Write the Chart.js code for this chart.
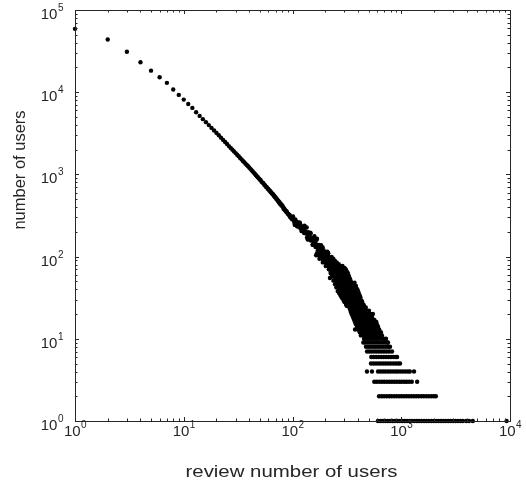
<!DOCTYPE html>
<html>
<head>
<meta charset="utf-8">
<script src="https://cdn.jsdelivr.net/npm/chart.js@4/dist/chart.umd.min.js"></script>
<style>
  body { margin: 0; background: #fff; }
</style>
</head>
<body>
<canvas id="myChart" width="526" height="484"></canvas>
<script>
// review counts 1..100, one user count each (the clean head of the curve)
const headReviews = [
  1, 2, 3, 4, 5, 6, 7, 8, 9, 10, 11, 12, 13, 14, 15, 16, 17, 18, 19, 20,
  21, 22, 23, 24, 25, 26, 27, 28, 29, 30, 31, 32, 33, 34, 35, 36, 37, 38, 39, 40,
  41, 42, 43, 44, 45, 46, 47, 48, 49, 50, 51, 52, 53, 54, 55, 56, 57, 58, 59, 60,
  61, 62, 63, 64, 65, 66, 67, 68, 69, 70, 71, 72, 73, 74, 75, 76, 77, 78, 79, 80,
  81, 82, 83, 84, 85, 86, 87, 88, 89, 90, 91, 92, 93, 94, 95, 96, 97, 98, 99, 100
];
const headUsers = [
  59000, 43700, 31000, 23100, 18300, 15200, 13000, 10800, 9270, 8130,
  7200, 6440, 5700, 5150, 4700, 4320, 3980, 3680, 3420, 3200,
  2990, 2800, 2630, 2480, 2340, 2210, 2100, 2000, 1905, 1815,
  1735, 1660, 1585, 1525, 1460, 1405, 1350, 1300, 1255, 1213,
  1169, 1128, 1088, 1051, 1017, 984, 952, 923, 895, 868,
  850, 812, 795, 779, 748, 735, 709, 699, 672, 664,
  640, 633, 608, 603, 580, 577, 553, 550, 527, 526,
  502, 500, 479, 480, 456, 459, 436, 440, 418, 421,
  412, 396, 380, 386, 370, 365, 354, 356, 347, 336,
  330, 329, 318, 321, 303, 308, 297, 299, 284, 288
];

// dense core of the band between 100 and 200 reviews
const coreReviews = [103, 107, 111, 115, 119, 123, 127, 131, 134, 137, 140, 143, 146, 149, 152, 155, 158, 161, 164, 167,
  170, 173, 176, 180, 184, 188, 192, 196, 200];
const coreUsers = [274, 263, 250, 241, 229, 222, 211, 203, 195, 191, 183, 179, 171, 168, 161, 157, 151, 148, 142, 139,
  133, 132, 126, 123, 117, 115, 108, 107, 101];

// the noisy band from ~100 to ~480 reviews
const bandReviews = [
  101, 102, 104, 105, 106, 108, 109, 110, 112, 113, 114, 116, 117, 118, 120, 121, 122, 124, 125, 126,
  128, 129, 130, 132, 133, 135, 136, 138, 139, 141, 142, 144, 145, 147, 148, 150, 151, 153, 154, 156,
  157, 159, 160, 162, 163, 165, 166, 168, 169, 171, 172, 174, 175, 177, 179, 181, 183, 185, 187, 189,
  191, 193, 195, 197, 199, 201, 203, 205, 207, 209, 211, 213, 215, 217, 220, 221, 222, 224, 225, 228,
  230, 233, 235, 238, 240, 243, 245, 248, 250, 253, 256, 258, 260, 262, 265, 268, 271, 274, 277, 280,
  283, 286, 289, 292, 295, 298, 300, 302, 305, 308, 312, 316, 319, 322, 326, 330, 333, 336, 340, 344,
  348, 352, 356, 360, 364, 368, 372, 376, 380, 385, 390, 395, 400, 405, 410, 415, 420, 425, 430, 435,
  440, 445, 450, 455, 465, 475
];
const bandUsers = [
  309, 285, 258, 243, 284, 255, 266, 234, 259, 232, 242, 260, 255, 221, 232, 205, 205, 233, 216, 223,
  194, 237, 227, 192, 193, 226, 171, 161, 198, 193, 180, 162, 195, 192, 157, 158, 167, 139, 140, 155,
  168, 177, 156, 163, 131, 134, 159, 165, 131, 119, 114, 107, 139, 136, 123, 124, 138, 105, 105, 130,
  114, 120, 92, 88, 113, 100, 105, 89, 84, 115, 109, 110, 85, 81, 70, 55, 69, 96, 92, 62,
  78, 84, 86, 82, 64, 69, 73, 59, 56, 61, 70, 71, 49, 65, 70, 49, 56, 62, 45, 50,
  60, 39, 50, 54, 43, 46, 55, 52, 55, 31, 36, 36, 42, 44, 30, 47, 41, 29, 37, 25,
  27, 40, 38, 33, 27, 21, 21, 26, 30, 25, 25, 23, 30, 31, 19, 26, 22, 18, 15, 16,
  22, 25, 19, 18, 12, 18
];

// rows of equal user count (25..110) across the widening band
const midLevels = [110, 104, 99, 94, 89, 85, 81, 77, 73, 70, 66, 63, 60, 57, 54, 51, 48, 46, 44, 42,
  40, 38, 36, 34, 32, 31, 29, 28, 26, 25];
const midReviews = [
  [168, 178, 189, 200, 212],
  [165, 175, 186, 197, 209],
  [181, 192, 204, 216, 229],
  [177, 188, 199, 211, 224, 237],
  [194, 206, 218, 231, 245],
  [190, 201, 213, 226, 240, 255],
  [208, 221, 235, 250, 266],
  [202, 214, 227, 241, 256, 272, 288],
  [223, 237, 252, 268, 284, 301],
  [216, 229, 243, 258, 274, 291, 309],
  [235, 249, 264, 280, 297, 316],
  [224, 238, 253, 269, 286, 304, 323],
  [241, 256, 272, 289, 307, 326],
  [231, 245, 260, 276, 293, 311, 331],
  [249, 264, 281, 298, 317, 337],
  [238, 253, 269, 286, 303, 322, 342],
  [258, 274, 291, 309, 328, 349, 372],
  [246, 262, 278, 296, 314, 334, 355],
  [265, 282, 300, 319, 339, 360, 383],
  [253, 269, 286, 304, 323, 344, 366],
  [272, 290, 308, 328, 349, 371, 394],
  [261, 278, 296, 315, 335, 357, 380, 400],
  [268, 285, 303, 322, 343, 365, 388, 406],
  [275, 293, 311, 331, 352, 375, 399, 414],
  [283, 301, 320, 341, 363, 386, 410, 421],
  [288, 306, 326, 347, 369, 393, 418],
  [296, 315, 335, 357, 380, 405, 432],
  [301, 320, 341, 363, 387, 412, 438],
  [311, 331, 353, 376, 400, 426, 450],
  [317, 338, 360, 383, 408, 434, 455]
];

// rows of 11..24 users, the blob above the flat tail
const blobLevels = [11, 12, 13, 14, 15, 16, 17, 18, 19, 20, 21, 22, 23, 24];
const blobReviews = [
  [425, 447, 470, 494, 519, 545, 573, 602, 633, 665],
  [415, 436, 458, 481, 506, 532, 559, 587, 617, 650],
  [376, 400, 420, 441, 464, 488, 513, 539, 566, 595, 626],
  [392, 412, 433, 455, 478, 502, 528, 555, 583, 612],
  [383, 402, 423, 444, 467, 491, 516, 542, 570, 598],
  [375, 394, 414, 435, 457, 480, 505, 530, 557, 590],
  [368, 387, 406, 427, 449, 472, 496, 521, 548, 566],
  [362, 380, 400, 420, 441, 464, 487, 512, 540],
  [357, 375, 394, 414, 435, 457, 480, 505, 525],
  [350, 368, 386, 406, 427, 448, 471, 495, 520, 548],
  [346, 364, 383, 402, 423, 444, 467, 490],
  [342, 360, 378, 397, 417, 438, 460, 483, 505],
  [338, 355, 373, 392, 412, 433, 455],
  [334, 351, 369, 388, 407, 428, 450, 472]
];

// tail: user counts 1..10, and the review counts seen at each level
const tailLevels = [1, 2, 3, 4, 5, 6, 7, 8, 9, 10];
const tailReviews = [
  [610, 645, 680, 715, 750, 790, 830, 875, 920, 970, 1020, 1075, 1130, 1190, 1250, 1320, 1390, 1460, 1540, 1620,
   1700, 1790, 1890, 1990, 2090, 2200, 2320, 2440, 2570, 2700, 2850, 3000, 3160, 3320, 3500, 3680, 3950, 4200, 4550, 9300],
  [625, 660, 695, 735, 775, 815, 860, 905, 955, 1005, 1060, 1115, 1175, 1240, 1305, 1375, 1450, 1530, 1610, 1700,
   1790, 1890, 1990, 2080],
  [565, 595, 630, 665, 700, 740, 780, 820, 865, 910, 960, 1010, 1065, 1120, 1180, 1250, 1400],
  [484, 538, 612, 645, 680, 715, 755, 795, 840, 885, 930, 980, 1035, 1090, 1150, 1200, 1310],
  [527, 555, 585, 617, 650, 685, 722, 760, 800, 845, 890, 935, 975],
  [530, 558, 588, 620, 653, 688, 725, 765, 805, 850, 895, 915],
  [485, 511, 538, 567, 597, 629, 663, 698, 735, 775, 822],
  [474, 499, 526, 554, 584, 615, 648, 683, 720, 758, 788],
  [448, 466, 491, 517, 545, 574, 605, 637, 671, 707, 740, 755],
  [455, 479, 505, 532, 560, 590, 622, 655, 690, 724]
];

// tick labels are 10^n
const xDecades = [0, 1, 2, 3, 4];
const yDecades = [0, 1, 2, 3, 4, 5];
const xTitle = 'review number of users';
const yTitle = 'number of users';

const FONT = '"Liberation Sans", Arial, sans-serif';
const INK = '#262626';

function toPoints(xs, ys) {
  return xs.map((x, i) => ({ x: x, y: ys[i] }));
}

function rowsToPoints(levels, rows) {
  const out = [];
  levels.forEach((lvl, i) => {
    rows[i].forEach(r => out.push({ x: r, y: lvl }));
  });
  return out;
}

let points = [];
points = points.concat(toPoints(headReviews, headUsers));
points = points.concat(toPoints(coreReviews, coreUsers));
points = points.concat(toPoints(bandReviews, bandUsers));
points = points.concat(rowsToPoints(midLevels, midReviews));
points = points.concat(rowsToPoints(blobLevels, blobReviews));
points = points.concat(rowsToPoints(tailLevels, tailReviews));

// "10" with a raised exponent
function drawPower(ctx, exp, x, y, align) {
  ctx.font = '15px ' + FONT;
  const wBase = ctx.measureText('10').width;
  ctx.font = '10px ' + FONT;
  const wExp = ctx.measureText(String(exp)).width;
  const left = align === 'center' ? x - (wBase + wExp) / 2 : x - wBase - wExp;
  ctx.font = '15px ' + FONT;
  ctx.fillText('10', left, y);
  ctx.font = '10px ' + FONT;
  ctx.fillText(String(exp), left + wBase + 0.5, y - 8);
}

const axesBox = {
  id: 'axesBox',
  afterDatasetsDraw(chart) {
    const ctx = chart.ctx;
    const a = chart.chartArea;
    const xs = chart.scales.x;
    const ys = chart.scales.y;
    ctx.save();
    ctx.strokeStyle = INK;
    ctx.lineWidth = 1;
    ctx.strokeRect(a.left + 0.5, a.top + 0.5, a.right - a.left, a.bottom - a.top);

    // inward ticks on all four sides
    ctx.beginPath();
    xDecades.forEach(d => {
      for (let k = 1; k <= 9; k++) {
        const v = Math.pow(10, d) * k;
        if (v > xs.max) break;
        const px = Math.round(xs.getPixelForValue(v)) + 0.5;
        const len = k === 1 ? 4 : 2.5;
        ctx.moveTo(px, a.bottom);
        ctx.lineTo(px, a.bottom - len);
        ctx.moveTo(px, a.top);
        ctx.lineTo(px, a.top + len);
      }
    });
    yDecades.forEach(d => {
      for (let k = 1; k <= 9; k++) {
        const v = Math.pow(10, d) * k;
        if (v > ys.max) break;
        const py = Math.round(ys.getPixelForValue(v)) + 0.5;
        const len = k === 1 ? 4 : 2.5;
        ctx.moveTo(a.left, py);
        ctx.lineTo(a.left + len, py);
        ctx.moveTo(a.right, py);
        ctx.lineTo(a.right - len, py);
      }
    });
    ctx.stroke();

    ctx.fillStyle = INK;
    ctx.textAlign = 'left';
    ctx.textBaseline = 'alphabetic';
    xDecades.forEach(d => {
      const px = xs.getPixelForValue(Math.pow(10, d));
      drawPower(ctx, d, px, a.bottom + 15, 'center');
    });
    yDecades.forEach(d => {
      const py = ys.getPixelForValue(Math.pow(10, d));
      drawPower(ctx, d, a.left - 12, py + 9, 'right');
    });

    // axis titles; the x title in the original is drawn a bit wide
    ctx.textAlign = 'center';
    ctx.save();
    ctx.translate((a.left + a.right) / 2 - 1, 477);
    ctx.scale(1.2, 1);
    ctx.font = '17px ' + FONT;
    ctx.fillText(xTitle, 0, 0);
    ctx.restore();
    ctx.save();
    ctx.translate(25, 170);
    ctx.rotate(-Math.PI / 2);
    ctx.font = '16.5px ' + FONT;
    ctx.fillText(yTitle, 0, 0);
    ctx.restore();
    ctx.restore();
  }
};

const ctx = document.getElementById('myChart');
new Chart(ctx, {
  type: 'scatter',
  data: {
    datasets: [{
      data: points,
      pointRadius: 2.2,
      pointBorderWidth: 0,
      pointBackgroundColor: '#000',
      clip: false
    }]
  },
  options: {
    responsive: false,
    animation: false,
    events: [],
    layout: { padding: { left: 75, right: 16, top: 10, bottom: 63 } },
    plugins: { legend: { display: false }, tooltip: { enabled: false } },
    scales: {
      x: { type: 'logarithmic', min: 1, max: 10000, display: false },
      y: { type: 'logarithmic', min: 1, max: 100000, display: false }
    }
  },
  plugins: [axesBox]
});
</script>
</body>
</html>
